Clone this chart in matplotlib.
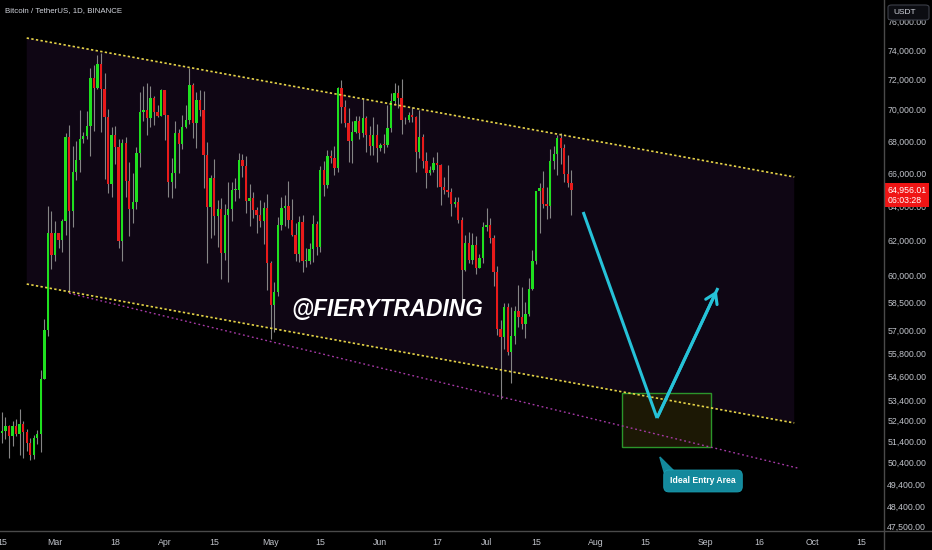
import numpy as np
import pandas as pd
import matplotlib
matplotlib.use("Agg")
import matplotlib.pyplot as plt
import matplotlib.dates as mdates
import matplotlib.transforms as mtransforms
from matplotlib.patches import Polygon, Rectangle, FancyBboxPatch
from matplotlib.ticker import FixedLocator, FixedFormatter, NullLocator

plt.rcParams.update({
    "font.family": ["Liberation Sans", "DejaVu Sans"],
})

# =============================
#  Data : BTCUSDT daily candles (13 Feb -> 25 Jul)
# =============================
start_date = "2024-02-13"

opens = [
    49917, 49699, 51795, 51880, 52124, 51642, 52137, 51765, 52259, 51839, 51304, 50732, 51571, 51733, 54476, 57037, 62432,
    61130, 62387, 61987, 63113, 68245, 63724, 66074, 66824, 68124, 68313, 68956, 72078, 71453, 73072, 71388, 69499,
    65300, 68390, 67610, 61938, 67841, 65501, 63796, 64209, 67210, 69880, 69988, 69469, 70780, 69850, 69582,
    71280, 69649, 65463, 65963, 68488, 67820, 68897, 69361, 71620, 69146, 70631, 70006, 67117, 63924, 65662,
    63419, 63794, 61278, 63470, 63818, 64941, 64941, 66819, 66414, 64289, 64498, 63770, 63462, 63118, 63866,
    60672, 58364, 59061, 62882, 63892, 64013, 63165, 62313, 61194, 63075, 60800, 60826, 61484, 62940, 61577,
    66206, 65235, 67024, 66915, 66274, 71447, 70148, 69166, 67969, 68549, 69290, 68507, 69436, 68398, 67652, 68352,
    67540, 67766, 67765, 68809, 70567, 71082, 70758, 69342, 69305, 69648, 69508, 67321, 68243, 66756, 66011,
    66191, 66639, 66491, 65140, 64960, 64829, 64097, 64253, 63180, 60277, 61805, 60864, 61707, 60427, 60986,
    62772, 62900, 62135, 60208, 57050, 56628, 58231, 55857, 56715, 58051, 57725, 57340, 57899, 59231, 60788,
    64870, 65097, 64119, 63974, 66710, 67164, 68166, 67533, 65937, 65372,
]
highs = [
    50368, 52043, 52817, 52572, 52191, 52377, 52488, 52985, 52366, 52000, 51548, 51698, 51950, 54938, 57588, 64000, 63676,
    63114, 62433, 63231, 68499, 69000, 67641, 67980, 69990, 68541, 69887, 72800, 73000, 73650, 73777, 72419, 70043,
    68904, 68957, 68124, 68100, 68240, 66650, 65999, 67622, 71150, 71561, 71769, 71552, 70916, 70321, 71366,
    71288, 69674, 66903, 69291, 68725, 69629, 70326, 72797, 71758, 71172, 71305, 71227, 67932, 65840, 66868,
    64365, 64486, 64125, 65450, 65419, 65695, 67232, 67183, 67075, 65297, 64820, 63923, 64370, 64228, 64734,
    60780, 59625, 63320, 64544, 64646, 65500, 64422, 62984, 63421, 63469, 61515, 61818, 63450, 63118, 66444,
    66752, 67451, 67400, 67700, 71515, 71979, 70666, 70096, 69250, 69610, 69562, 70687, 69591, 68935, 69500, 69044,
    67857, 68460, 70288, 71063, 71758, 71625, 71997, 69524, 69850, 70195, 69564, 69999, 68449, 67320, 66449,
    66983, 67298, 66566, 65727, 66482, 65066, 64525, 64523, 63370, 62293, 62480, 62389, 62225, 61224, 63058,
    63861, 63289, 62285, 60498, 57546, 58475, 58475, 58236, 58296, 59470, 59359, 58533, 59850, 61420, 64900,
    65388, 66128, 65133, 67487, 67650, 68383, 68480, 67818, 67102, 66175,
]
lows = [
    48300, 49225, 51310, 51500, 50625, 51163, 51677, 50760, 50625, 50926, 50521, 50586, 51280, 50901, 54450, 56691, 60364,
    60777, 61561, 61320, 62300, 59005, 62779, 65551, 66082, 67862, 68094, 67024, 68620, 71333, 68555, 65600, 64780,
    64533, 66566, 61555, 60775, 64529, 62260, 63000, 63825, 66385, 69280, 68359, 68903, 69009, 69540, 69562,
    68062, 64550, 64493, 65064, 66011, 67491, 68825, 69043, 68210, 67518, 69567, 65086, 60660, 62134, 62274,
    61600, 59768, 60833, 59600, 63090, 64278, 64500, 65765, 63589, 62794, 63297, 62424, 62782, 61765, 59191,
    56552, 56911, 58848, 62584, 62822, 62700, 62261, 60800, 60749, 60187, 60487, 60632, 60749, 61143, 61319,
    64602, 65106, 66600, 65858, 66060, 69162, 68852, 66670, 66600, 68500, 68128, 68250, 67277, 67124, 67128, 66670,
    67387, 67257, 67613, 68567, 70383, 70119, 68420, 69104, 69200, 69172, 66051, 66902, 66304, 65078, 65857,
    66060, 65130, 64060, 64693, 64560, 63379, 63943, 63000, 58402, 60239, 60712, 60606, 60063, 60383, 60712,
    62497, 61806, 59400, 56771, 53485, 56020, 55724, 54260, 56289, 57157, 57052, 56590, 57756, 59196, 60632,
    62378, 63854, 63238, 63300, 66228, 65841, 66574, 65441, 65111, 63456,
]
closes = [
    49699, 51795, 51880, 52124, 51642, 52137, 51765, 52259, 51839, 51304, 50731, 51571, 51733, 54476, 57037, 62432, 61130,
    62387, 61987, 63113, 68245, 63724, 66074, 66823, 68124, 68313, 68955, 72078, 71453, 73072, 71388, 69499, 65300,
    68393, 67609, 61937, 67840, 65501, 63797, 64209, 67211, 69880, 69988, 69469, 70780, 69850, 69582, 71280,
    69649, 65463, 65963, 68488, 67820, 68896, 69360, 71620, 69146, 70631, 70006, 67116, 63924, 65662, 63419,
    63793, 61277, 63470, 63818, 64941, 64942, 66819, 66414, 64289, 64498, 63770, 63461, 63118, 63866, 60672,
    58364, 59060, 62882, 63892, 64012, 63165, 62312, 61193, 63074, 60799, 60825, 61484, 62940, 61577, 66206,
    65235, 67024, 66915, 66274, 71446, 70148, 69166, 67969, 68549, 69290, 68507, 69436, 68398, 67652, 68352, 67540,
    67766, 67765, 68809, 70567, 71082, 70757, 69342, 69305, 69648, 69508, 67321, 68243, 66756, 66011, 66191,
    66639, 66490, 65140, 64960, 64828, 64096, 64253, 63180, 60277, 61806, 60864, 61706, 60427, 60986, 62772,
    62899, 62135, 60208, 57050, 56628, 58231, 55857, 56714, 58051, 57725, 57340, 57899, 59231, 60787, 64870,
    65097, 64119, 63974, 66710, 67164, 68165, 67533, 65937, 65372, 64956.01,
]

# channel / drawings
channel_dates = ["2024-02-22", "2024-09-26"]
channel_upper = [74830, 65750]
channel_lower = [59510, 52290]
support_dates = ["2024-03-05", "2024-09-27"]
support_prices = [59005, 50140]
entry_box_dates = ["2024-08-08 08:00", "2024-09-02 12:00"]
entry_box_prices = [51130, 53780]
path_dates = ["2024-07-28 08:00", "2024-08-18 05:00", "2024-09-04 10:00"]
path_prices = [63640, 52530, 59290]
callout_date = "2024-08-31 05:00"
callout_price = 49540
callout_tail_dates = ["2024-08-19", "2024-08-20 05:00", "2024-08-23 08:00"]
callout_tail_prices = [50660, 49950, 49950]

ytick_values = [76000, 74000, 72000, 70000, 68000, 66000, 64000, 62000, 60000, 58500, 57000,
                55800, 54600, 53400, 52400, 51400, 50400, 49400, 48400, 47500]
xtick_dates = ["2024-02-15", "2024-03-01", "2024-03-18", "2024-04-01", "2024-04-15", "2024-05-01",
               "2024-05-15", "2024-06-01", "2024-06-17", "2024-07-01", "2024-07-15", "2024-08-01",
               "2024-08-15", "2024-09-01", "2024-09-16", "2024-10-01", "2024-10-15"]
xtick_labels = ["15", "Mar", "18", "Apr", "15", "May", "15", "Jun", "17", "Jul", "15", "Aug",
                "15", "Sep", "16", "Oct", "15"]

# Colors
bg = "#000000"
col_up = "#1fe01f"
col_down = "#e81a1a"
col_wick = "#858585"
col_channel = "#0f0614"
col_yellow = "#e6d448"
col_magenta = "#a63aa6"
col_cyan = "#26c2d8"
col_text = "#c0c3ca"
col_axis = "#4a4a4a"

W, H = 932, 550
fig = plt.figure(figsize=(W / 100, H / 100), dpi=100, facecolor=bg)
ax = fig.add_axes([0, 19 / H, 884 / W, 531 / H])
ax.set_facecolor(bg)

dates = mdates.date2num(pd.date_range(start_date, periods=len(closes), freq="D"))
o = np.array(opens, float); c = np.array(closes, float)
h = np.array(highs, float); l = np.array(lows, float)
up = c >= o

def dn(s):
    return mdates.date2num(pd.Timestamp(s))

# --- channel fill & lines ---
cd = [dn(d) for d in channel_dates]
ax.add_patch(Polygon([(cd[0], channel_upper[0]), (cd[1], channel_upper[1]),
                      (cd[1], channel_lower[1]), (cd[0], channel_lower[0])],
                     closed=True, fc=col_channel, ec="none", zorder=1))
ax.plot(cd, channel_upper, color=col_yellow, lw=1.2, ls=(0, (1.4, 1.4)), zorder=6)
ax.plot(cd, channel_lower, color=col_yellow, lw=1.2, ls=(0, (1.4, 1.4)), zorder=6)
ax.plot([dn(d) for d in support_dates], support_prices, color=col_magenta, lw=1.0,
        ls=(0, (1.3, 2.0)), zorder=6)

# --- candles ---
ax.vlines(dates, l, h, color=col_wick, lw=0.8, zorder=3)
body_lo = np.minimum(o, c); body_hi = np.maximum(o, c)
body_hi = np.maximum(body_hi, body_lo * 1.0008)
ax.bar(dates[up], (body_hi - body_lo)[up], bottom=body_lo[up], width=0.66,
       color=col_up, lw=0, zorder=4)
ax.bar(dates[~up], (body_hi - body_lo)[~up], bottom=body_lo[~up], width=0.66,
       color=col_down, lw=0, zorder=4)

# --- entry box ---
bx = [dn(d) for d in entry_box_dates]
ax.add_patch(Rectangle((bx[0], entry_box_prices[0]), bx[1] - bx[0],
                       entry_box_prices[1] - entry_box_prices[0],
                       fc="#201b06", ec="#2fa52f", lw=1.0, alpha=0.9, zorder=5))

# --- projected path ---
pd_num = [dn(d) for d in path_dates]
ax.plot(pd_num[:2], path_prices[:2], color=col_cyan, lw=2.2, solid_capstyle="butt", zorder=8)
ax.plot(pd_num[1:], path_prices[1:], color=col_cyan, lw=2.2, solid_capstyle="butt", zorder=8)
ax.annotate("", xy=(pd_num[2], path_prices[2]), xytext=(pd_num[1], path_prices[1]),
            arrowprops=dict(arrowstyle="->,head_length=0.7,head_width=0.45", color=col_cyan, lw=2.2),
            zorder=8)

# --- callout ---
ax.add_patch(Polygon(list(zip([dn(d) for d in callout_tail_dates], callout_tail_prices)),
                     closed=True, fc="#14899c", ec="#14899c", zorder=9))
ax.text(dn(callout_date), callout_price, "Ideal Entry Area", ha="center", va="center",
        fontsize=6.2, fontweight="bold", color="white", zorder=10,
        bbox=dict(boxstyle="round,pad=0.75,rounding_size=0.6", fc="#14899c", ec="#1aa0b4", lw=0.6))

# --- watermark ---
fig.text(387 / W, 1 - 309 / H, "@FIERYTRADING", ha="center", va="center", fontsize=16.3,
         fontweight="bold", fontstyle="italic", color="white", zorder=20)

# --- axes & ticks ---
ax.set_yscale("log")
x0 = dn("2024-03-01") - 55 / 3.537
ax.set_xlim(x0, x0 + 884 / 3.537)
ax.set_ylim(74000 * np.exp(-481 / 1074), 74000 * np.exp(50 / 1074))
for s in ax.spines.values():
    s.set_visible(False)

ax.yaxis.tick_right()
ax.yaxis.set_major_locator(FixedLocator(ytick_values))
ax.yaxis.set_major_formatter(FixedFormatter([f"{v:,.2f}" for v in ytick_values]))
ax.yaxis.set_minor_locator(NullLocator())
ax.tick_params(axis="y", length=0, pad=2.3, labelsize=6.3, labelcolor=col_text)

ax.xaxis.set_major_locator(FixedLocator([dn(d) for d in xtick_dates]))
ax.xaxis.set_major_formatter(FixedFormatter(xtick_labels))
ax.tick_params(axis="x", length=0, pad=5, labelsize=6.3, labelcolor=col_text)

# last price label
blend = mtransforms.blended_transform_factory(ax.transAxes, ax.transData)
ax.annotate("64,956.01\n06:03:28", xy=(1, closes[-1]), xycoords=blend, xytext=(2.6, 3.2),
            textcoords="offset points", ha="left", va="top", fontsize=6.3, color="white",
            linespacing=1.15, annotation_clip=False, zorder=30,
            bbox=dict(boxstyle="square,pad=0.3", fc="#f01515", ec="none"))

# frame lines
fig.add_artist(plt.Line2D([0, 1], [1 - 531 / H] * 2, color=col_axis, lw=1.0))
fig.add_artist(plt.Line2D([884 / W] * 2, [0, 1], color=col_axis, lw=1.0))

# header & currency box
fig.text(5 / W, 1 - 11 / H, "Bitcoin / TetherUS, 1D, BINANCE", ha="left", va="center",
         fontsize=5.7, color="#d1d4dc")
fig.add_artist(FancyBboxPatch((888 / W, 1 - 20 / H), 41 / W, 15 / H,
                              boxstyle="round,pad=0,rounding_size=0.004",
                              transform=fig.transFigure, fc="#0c0d12", ec="#3c3f48", lw=0.8, zorder=25))
fig.text(893 / W, 1 - 12.5 / H, "USDT", ha="left", va="center", fontsize=6, color="#d1d4dc", zorder=26)

fig.savefig("out.png", dpi=100, facecolor=bg)
